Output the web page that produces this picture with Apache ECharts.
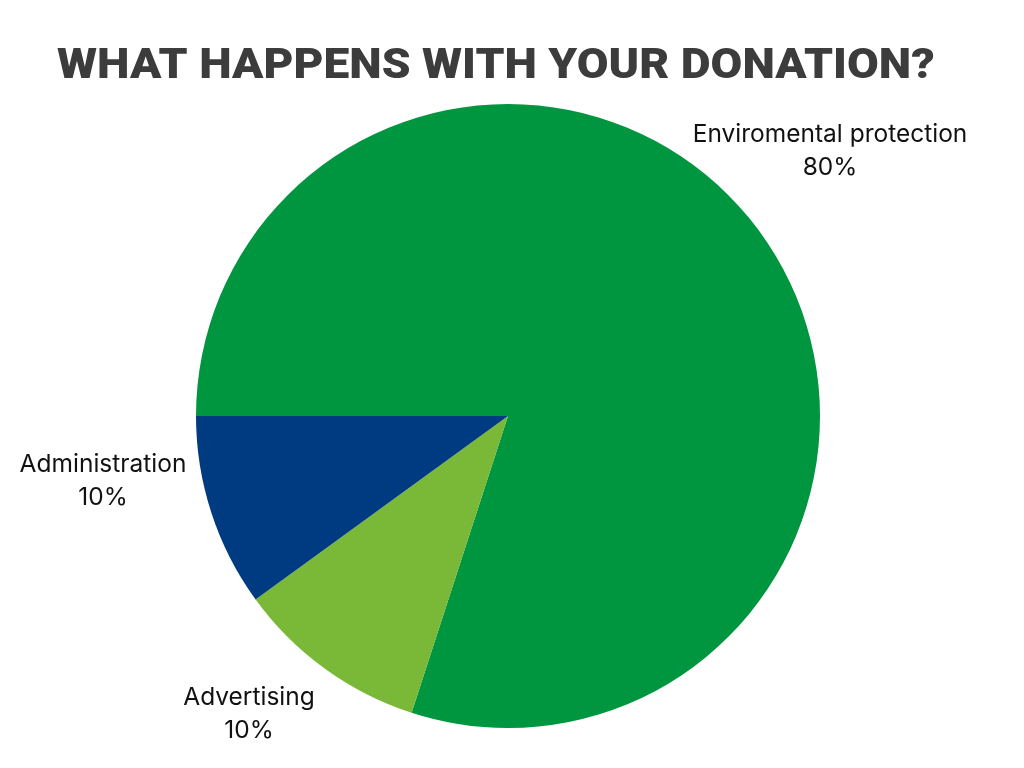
<!DOCTYPE html>
<html>
<head>
<meta charset="utf-8">
<script src="https://cdn.jsdelivr.net/npm/echarts@6/dist/echarts.min.js"></script>
<style>html,body{margin:0;padding:0;background:#fff}#c{width:1024px;height:768px}</style>
</head>
<body>
<div id="c"></div>
<script>
const titleText = 'WHAT HAPPENS WITH YOUR DONATION?';
const categories = ['Enviromental protection', 'Advertising', 'Administration'];
const values = [80, 10, 10];
const colors = ['#00953F', '#7AB837', '#003A80'];

// label anchor points (layout only)
const labelAnchors = [[830, 151], [249, 714], [103, 481]];

const chart = echarts.init(document.getElementById('c'), null, {renderer: 'canvas'});
const total = values.reduce((a, b) => a + b, 0);
chart.setOption({
  backgroundColor: '#ffffff',
  animation: false,
  graphic: [{
    type: 'text',
    x: 57,
    y: 46,
    scaleX: 1.098,
    style: {
      text: titleText,
      fontFamily: 'Roboto',
      fontWeight: 900,
      fontSize: 42,
      fill: '#3C3C3C',
      textAlign: 'left',
      textVerticalAlign: 'top'
    }
  }],
  series: [{
    type: 'pie',
    center: [508, 416],
    radius: 312,
    startAngle: 180,
    clockwise: true,
    silent: true,
    data: categories.map((c, i) => ({name: c, value: values[i], itemStyle: {color: colors[i]}})),
    label: {
      show: true,
      position: 'outside',
      formatter: p => p.name + '\n' + Math.round(p.value / total * 100) + '%',
      fontFamily: 'Inter',
      fontSize: 24.5,
      lineHeight: 33,
      color: '#111111',
      align: 'center',
      overflow: 'none',
      width: 400
    },
    labelLine: {show: false},
    labelLayout: params => ({
      x: labelAnchors[params.dataIndex][0],
      y: labelAnchors[params.dataIndex][1],
      align: 'center',
      verticalAlign: 'middle'
    })
  }]
});
</script>
</body>
</html>
